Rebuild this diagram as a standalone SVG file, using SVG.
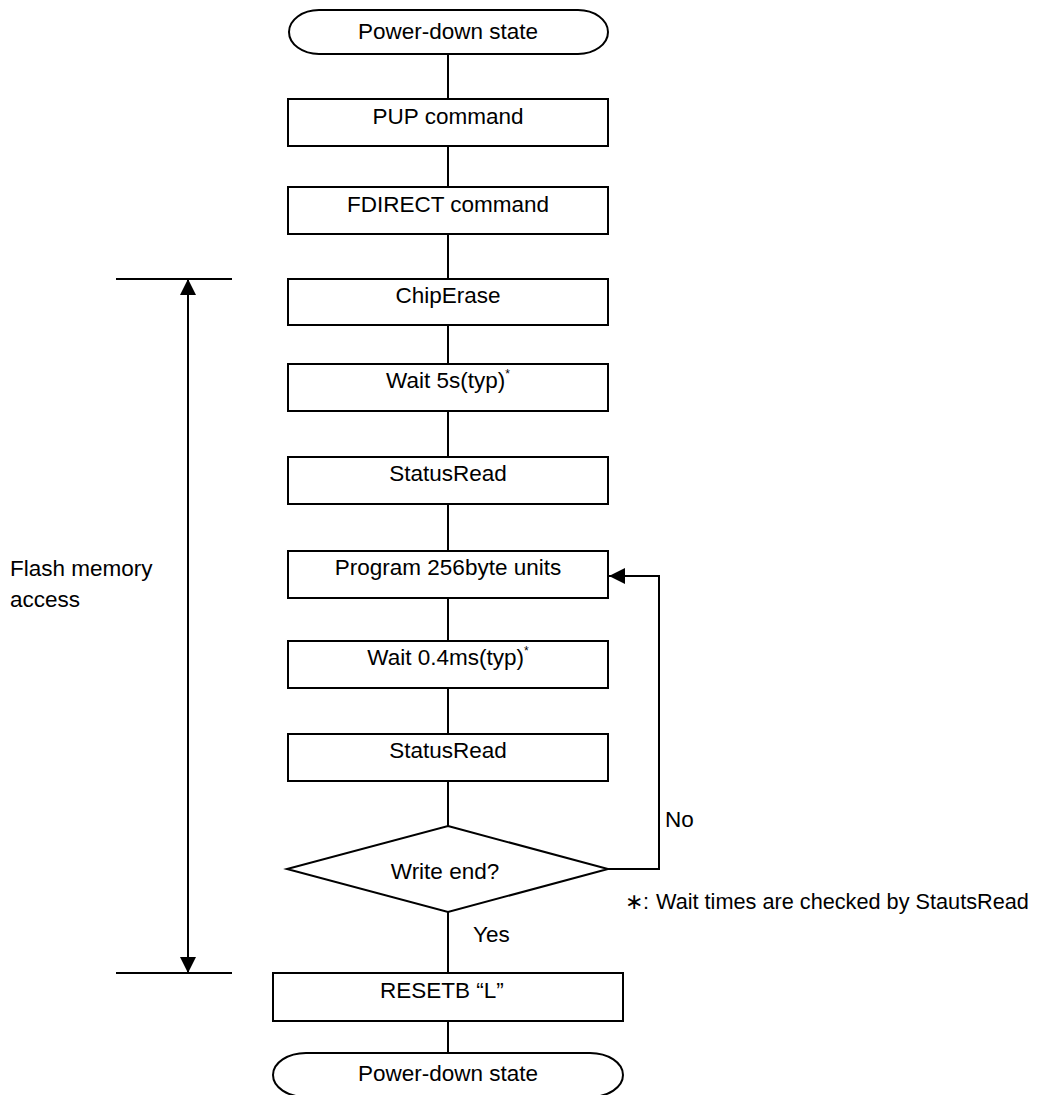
<svg xmlns="http://www.w3.org/2000/svg" width="1038" height="1095" viewBox="0 0 1038 1095">
<style>
.shape{fill:#fff;stroke:#000;stroke-width:2}
.line{fill:none;stroke:#000;stroke-width:2}
text{font-family:"Liberation Sans",Arial,"Noto Sans CJK JP",sans-serif;font-size:22.5px;fill:#000}
.c{text-anchor:middle}
.cjk{font-family:"Noto Sans CJK JP",sans-serif}
.sup{font-size:12px}
.note{font-size:21.7px}
</style>
<defs>
<marker id="ah" viewBox="0 0 16 16" refX="16" refY="8" markerWidth="16" markerHeight="16" markerUnits="userSpaceOnUse" orient="auto">
<path d="M0,0 L16,8 L0,16 Z" fill="#000"/>
</marker>
</defs>
<rect width="1038" height="1095" fill="#fff"/>
<g id="connectors">
<path class="line" d="M448,54V99M448,146V187M448,234V279M448,325V364M448,411V457M448,504V551M448,598V641M448,688V734M448,781V826M448,912V973M448,1021V1053"/>
<path class="line" d="M608,869H659V576H609" marker-end="url(#ah)"/>
<path class="line" d="M116,279H232M116,973H232"/>
<path class="line" d="M188,300V279" marker-end="url(#ah)"/>
<path class="line" d="M188,290V973" marker-end="url(#ah)"/>
</g>
<g id="start">
<path class="shape" d="M319,10H578A30,22 0 0 1 578,54H319A30,22 0 0 1 319,10Z"/>
<text class="c" x="448" y="39">Power-down state</text>
</g>
<g id="pup">
<rect class="shape" x="288" y="99" width="320" height="47"/>
<text class="c" x="448" y="124">PUP command</text>
</g>
<g id="fdirect">
<rect class="shape" x="288" y="187" width="320" height="47"/>
<text class="c" x="448" y="212">FDIRECT command</text>
</g>
<g id="chiperase">
<rect class="shape" x="288" y="279" width="320" height="46"/>
<text class="c" x="448" y="303">ChipErase</text>
</g>
<g id="wait5s">
<rect class="shape" x="288" y="364" width="320" height="47"/>
<text class="c" x="448" y="388">Wait 5s(typ)<tspan class="sup" dy="-10">*</tspan></text>
</g>
<g id="statusread1">
<rect class="shape" x="288" y="457" width="320" height="47"/>
<text class="c" x="448" y="481">StatusRead</text>
</g>
<g id="program">
<rect class="shape" x="288" y="551" width="320" height="47"/>
<text class="c" x="448" y="575">Program 256byte units</text>
</g>
<g id="wait04">
<rect class="shape" x="288" y="641" width="320" height="47"/>
<text class="c" x="448" y="665">Wait 0.4ms(typ)<tspan class="sup" dy="-10">*</tspan></text>
</g>
<g id="statusread2">
<rect class="shape" x="288" y="734" width="320" height="47"/>
<text class="c" x="448" y="758">StatusRead</text>
</g>
<g id="writeend">
<path class="shape" d="M448,826L608,869L448,912L287,869Z"/>
<text class="c" x="445" y="879">Write end?</text>
</g>
<g id="resetb">
<rect class="shape" x="273" y="973" width="350" height="48"/>
<text x="380" y="998">RESETB “L”</text>
</g>
<g id="end">
<path class="shape" d="M306,1053H590A33,22 0 0 1 590,1097H306A33,22 0 0 1 306,1053Z"/>
<text class="c" x="448" y="1081">Power-down state</text>
</g>
<g id="labels">
<text x="665" y="827">No</text>
<text x="473" y="942">Yes</text>
<text x="10" y="576">Flash memory</text>
<text x="10" y="607">access</text>
<text class="note" x="625" y="909"><tspan class="cjk">∗</tspan>:<tspan x="656">Wait times are checked by StautsRead</tspan></text>
</g>
</svg>
